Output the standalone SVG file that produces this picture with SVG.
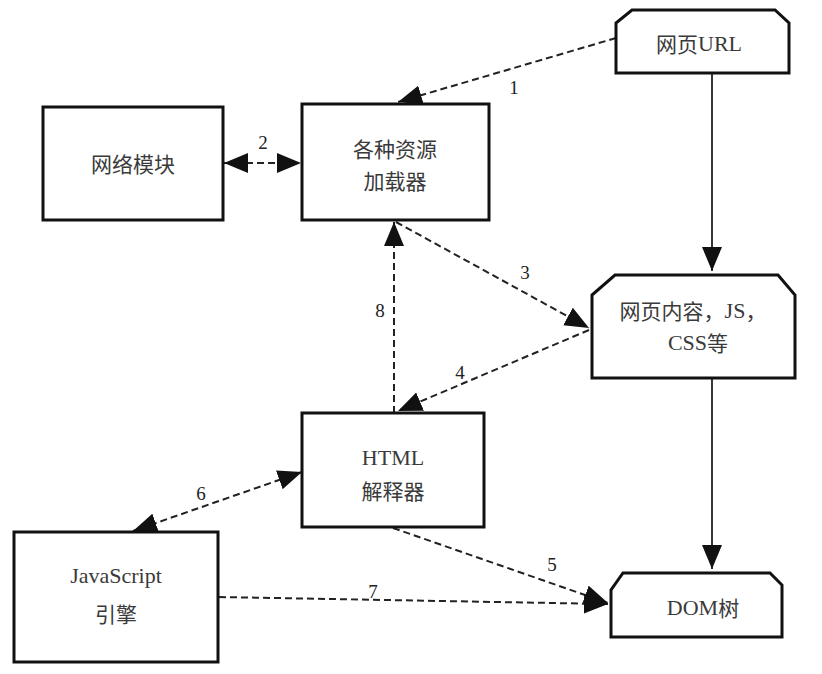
<svg xmlns="http://www.w3.org/2000/svg" width="822" height="674" viewBox="0 0 822 674">
<style>
.box{fill:#fff;stroke:#111;stroke-width:3}
.t{font-family:"Noto Sans CJK SC","Liberation Serif",sans-serif;font-size:21px;fill:#3a3a3a;text-anchor:middle;dominant-baseline:central}
.l{font-family:"Liberation Serif",serif;font-size:22px}
.n{font-family:"Liberation Serif",serif;font-size:19px;fill:#222;text-anchor:middle;dominant-baseline:central}
.d{fill:none;stroke:#222;stroke-width:2;stroke-dasharray:7,4}
.s{fill:none;stroke:#222;stroke-width:1.8}
</style>
<defs>
<marker id="ah" markerUnits="userSpaceOnUse" markerWidth="26" markerHeight="22" refX="24" refY="10" orient="auto-start-reverse">
<path d="M0,0 L24,10 L0,20 z" fill="#111"/>
</marker>
</defs>
<rect width="822" height="674" fill="#fff"/>
<g id="connectors">
<line class="d" x1="616" y1="38" x2="398" y2="102" marker-end="url(#ah)"/>
<line class="d" x1="224" y1="163" x2="301" y2="163" marker-start="url(#ah)" marker-end="url(#ah)"/>
<line class="d" x1="396" y1="222" x2="589" y2="328" marker-end="url(#ah)"/>
<line class="d" x1="589" y1="330" x2="398" y2="411" marker-end="url(#ah)"/>
<line class="d" x1="394" y1="413" x2="394" y2="222" marker-end="url(#ah)"/>
<line class="d" x1="302" y1="472" x2="133" y2="531" marker-start="url(#ah)" marker-end="url(#ah)"/>
<line class="d" x1="393" y1="528" x2="608" y2="603" marker-end="url(#ah)"/>
<line class="d" x1="219" y1="597" x2="608" y2="604" marker-end="url(#ah)"/>
<line class="s" x1="712" y1="74" x2="712" y2="271" marker-end="url(#ah)"/>
<line class="s" x1="712" y1="378" x2="712" y2="569" marker-end="url(#ah)"/>
<text class="n" x="514" y="87">1</text>
<text class="n" x="263" y="142">2</text>
<text class="n" x="525" y="272">3</text>
<text class="n" x="460" y="372">4</text>
<text class="n" x="552" y="564">5</text>
<text class="n" x="201" y="493">6</text>
<text class="n" x="373" y="591">7</text>
<text class="n" x="380" y="310">8</text>
</g>
<g id="url">
<path class="box" d="M632,10 L775,10 L789,23 L789,73 L616,73 L616,23 Z"/>
<text class="t" x="699" y="43">网页<tspan class="l">URL</tspan></text>
</g>
<g id="network">
<rect class="box" x="43" y="107" width="180" height="113"/>
<text class="t" x="133" y="163">网络模块</text>
</g>
<g id="loader">
<rect class="box" x="302" y="104" width="187" height="116"/>
<text class="t" x="395" y="148">各种资源</text>
<text class="t" x="395" y="180">加载器</text>
</g>
<g id="content">
<path class="box" d="M615,275 L778,275 L795,295 L795,378 L592,378 L592,295 Z"/>
<text class="t" x="693" y="310">网页内容，<tspan class="l">JS</tspan>，</text>
<text class="t" x="698" y="342"><tspan class="l">CSS</tspan>等</text>
</g>
<g id="html">
<rect class="box" x="302" y="413" width="182" height="114"/>
<text class="t" x="393" y="457"><tspan class="l">HTML</tspan></text>
<text class="t" x="393" y="490">解释器</text>
</g>
<g id="js">
<rect class="box" x="14" y="532" width="204" height="130"/>
<text class="t" x="116" y="575"><tspan class="l">JavaScript</tspan></text>
<text class="t" x="116" y="613">引擎</text>
</g>
<g id="dom">
<path class="box" d="M623,573 L770,573 L782,585 L782,637 L611,637 L611,590 Z"/>
<text class="t" x="703" y="607"><tspan class="l">DOM</tspan>树</text>
</g>
</svg>
